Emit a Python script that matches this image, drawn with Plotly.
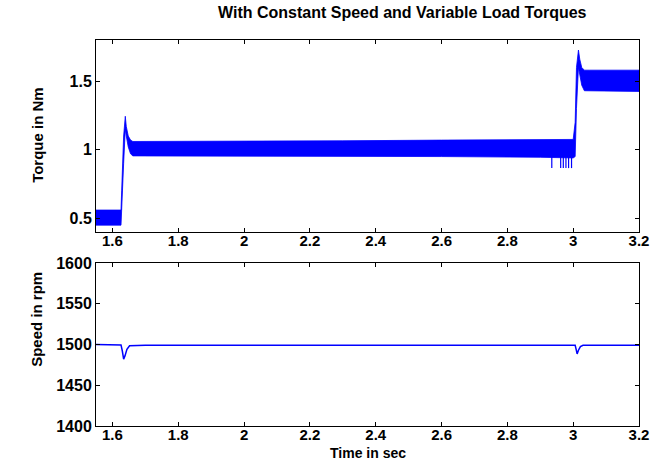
import plotly.graph_objects as go
from plotly.subplots import make_subplots

# torque envelope (Nm)
t_env = [1.55, 1.626, 1.628, 1.634, 1.639, 1.642, 1.648, 1.655, 1.662, 1.7, 2.0, 2.3, 2.6, 2.9, 3.0,
         3.006, 3.010, 3.016, 3.020, 3.026, 3.034, 3.05, 3.2]
torque_hi = [0.56, 0.56, 0.70, 1.10, 1.244, 1.17, 1.10, 1.07, 1.06, 1.06, 1.06, 1.065, 1.07, 1.07, 1.075,
             1.20, 1.60, 1.727, 1.66, 1.60, 1.58, 1.58, 1.58]
torque_lo = [0.45, 0.45, 0.46, 0.90, 1.15, 1.10, 1.02, 0.97, 0.955, 0.95, 0.95, 0.95, 0.95, 0.945, 0.94,
             0.95, 1.30, 1.60, 1.54, 1.47, 1.43, 1.425, 1.425]

# short downward spikes just before the second load step
dip_t = [2.935, 2.962, 2.970, 2.978, 2.986, 2.995]
dip_top = 0.95
dip_bottom = 0.866

# rotor speed (rpm)
t_speed = [1.55, 1.620, 1.626, 1.630, 1.634, 1.638, 1.644, 1.652, 1.70, 2.0, 2.5, 2.8, 2.9, 3.0,
           3.006, 3.009, 3.012, 3.016, 3.022, 3.030, 3.2]
speed = [1500, 1500, 1499.5, 1492, 1482, 1486, 1494, 1498.5, 1499, 1499, 1499, 1499, 1499.5, 1499,
         1499, 1494, 1488.5, 1493, 1497.5, 1499, 1499]

xticks = [1.6, 1.8, 2, 2.2, 2.4, 2.6, 2.8, 3, 3.2]
xtick_text = ["1.6", "1.8", "2", "2.2", "2.4", "2.6", "2.8", "3", "3.2"]

blue = "#0000FF"
tfont = dict(family="Liberation Sans", size=16, color="black", weight="bold")

fig = make_subplots(rows=2, cols=1)

# band of the torque ripple as a closed polygon
poly_x = t_env + t_env[::-1]
poly_y = torque_hi + torque_lo[::-1]
fig.add_trace(go.Scatter(x=poly_x, y=poly_y, mode="lines", fill="toself", fillcolor=blue,
                         line=dict(color=blue, width=0.8), hoverinfo="skip"), row=1, col=1)

dx, dy = [], []
for t in dip_t:
    dx += [t, t, None]
    dy += [dip_top, dip_bottom, None]
fig.add_trace(go.Scatter(x=dx, y=dy, mode="lines", line=dict(color=blue, width=1.2)), row=1, col=1)

fig.add_trace(go.Scatter(x=t_speed, y=speed, mode="lines", line=dict(color=blue, width=1.5)), row=2, col=1)

axis_style = dict(showline=True, linecolor="black", linewidth=1, mirror="ticks", ticks="inside",
                  ticklen=4, tickcolor="black", showgrid=False, zeroline=False, tickfont=tfont,
                  automargin=False)

fig.update_xaxes(range=[1.55, 3.2], tickvals=xticks, ticktext=xtick_text, domain=[0, 1],
                 ticklabelstandoff=-5, **axis_style)
fig.update_xaxes(tickfont=dict(tfont, size=15))
fig.update_yaxes(**axis_style)
fig.update_yaxes(domain=[0.5026, 1], range=[0.4, 1.8], tickvals=[0.5, 1, 1.5], ticktext=["0.5", "1", "1.5"],
                 row=1, col=1)
fig.update_yaxes(domain=[0, 0.4223], range=[1400, 1600], tickvals=[1400, 1450, 1500, 1550, 1600],
                 row=2, col=1)

lab = dict(family="Liberation Sans", size=15, color="black", weight="bold")
fig.add_annotation(text="With Constant Speed and Variable Load Torques", xref="paper", yref="paper",
                   x=0.565, y=1.07, xanchor="center", yanchor="middle", showarrow=False,
                   font=dict(lab, size=16))
fig.add_annotation(text="Torque in Nm", xref="paper", yref="paper", x=-0.107, y=0.754, textangle=-90,
                   xanchor="center", yanchor="middle", showarrow=False, font=lab)
fig.add_annotation(text="Speed in rpm", xref="paper", yref="paper", x=-0.111, y=0.277, textangle=-90,
                   xanchor="center", yanchor="middle", showarrow=False, font=lab)
fig.add_annotation(text="Time in sec", xref="paper", yref="paper", x=0.5, y=-0.069,
                   xanchor="center", yanchor="middle", showarrow=False, font=dict(lab, size=14))

fig.update_layout(width=662, height=459, margin=dict(l=96, r=23, t=40, b=33),
                  plot_bgcolor="white", paper_bgcolor="white", showlegend=False)

fig.write_html("out.html", config={"displayModeBar": False},
               post_script="document.body.style.margin='0';")
